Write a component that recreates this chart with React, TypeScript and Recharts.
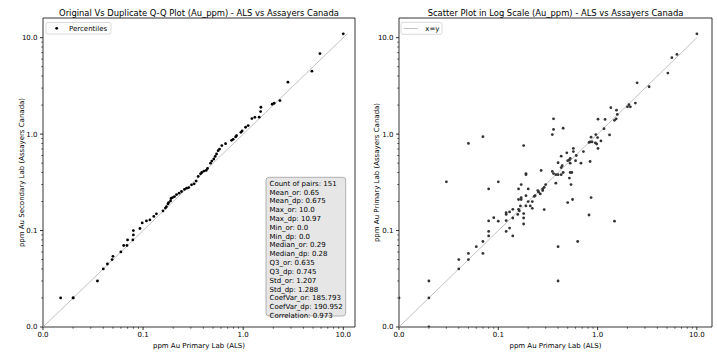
import React from 'react';
import { ScatterChart, Scatter, XAxis, YAxis, ReferenceLine, ReferenceArea } from 'recharts';

// Q-Q plot: percentiles of original (ALS) vs duplicate (Assayers Canada)
const qqOriginal = [0.015, 0.02, 0.02, 0.035, 0.04, 0.044, 0.049, 0.05, 0.06, 0.064, 0.069, 0.07, 0.079, 0.08, 0.08, 0.093, 0.098, 0.108, 0.117, 0.128, 0.136, 0.158, 0.167, 0.171, 0.177, 0.18, 0.188, 0.19, 0.197, 0.206, 0.216, 0.229, 0.242, 0.259, 0.272, 0.286, 0.305, 0.324, 0.339, 0.355, 0.375, 0.386, 0.405, 0.427, 0.44, 0.472, 0.486, 0.509, 0.525, 0.542, 0.562, 0.581, 0.612, 0.667, 0.766, 0.794, 0.84, 0.859, 0.948, 0.977, 1.057, 1.122, 1.222, 1.309, 1.445, 1.493, 1.503, 1.95, 2.04, 2.33, 2.8, 4.86, 5.85, 10.0];
const qqDuplicate = [0.02, 0.02, 0.02, 0.03, 0.04, 0.045, 0.05, 0.054, 0.06, 0.07, 0.07, 0.08, 0.08, 0.09, 0.1, 0.105, 0.12, 0.126, 0.129, 0.14, 0.149, 0.16, 0.171, 0.177, 0.189, 0.195, 0.203, 0.215, 0.22, 0.225, 0.236, 0.244, 0.254, 0.267, 0.275, 0.279, 0.298, 0.305, 0.326, 0.364, 0.388, 0.4, 0.414, 0.42, 0.44, 0.5, 0.526, 0.552, 0.587, 0.622, 0.673, 0.7, 0.76, 0.796, 0.863, 0.883, 0.935, 0.964, 1.044, 1.08, 1.178, 1.225, 1.449, 1.495, 1.5, 1.714, 1.9, 2.04, 2.09, 2.23, 3.46, 4.5, 6.84, 10.97];

// Scatter: paired samples
const alsPrimary = [0.36, 0.36, 0.35, 0.05, 0.07, 0.18, 0.19, 0.27, 0.35, 0.36, 10.0, 6.3, 5.6, 5.1, 2.5, 3.3, 2.4, 2.07, 2.0, 2.14, 1.36, 1.55, 1.58, 1.54, 1.48, 1.19, 1.01, 1.16, 0.45, 1.32, 0.96, 0.86, 1.0, 0.88, 0.84, 0.82, 0.95, 1.08, 0.98, 1.01, 0.57, 0.49, 0.57, 0.72, 0.61, 0.43, 0.53, 0.52, 0.5, 0.6, 0.84, 0.68, 0.53, 0.4, 0.44, 0.43, 0.45, 0.53, 0.55, 0.03, 0.1, 0.08, 0.19, 0.3, 0.29, 0.28, 0.17, 0.16, 0.2, 0.25, 0.255, 0.265, 0.28, 0.235, 0.23, 0.19, 0.16, 0.17, 0.17, 0.2, 0.22, 0.19, 0.167, 0.21, 0.22, 0.29, 0.16, 0.163, 0.14, 0.12, 0.12, 0.13, 0.157, 0.18, 0.14, 0.09, 0.1, 0.08, 0.12, 0.18, 0.18, 0.13, 0.08, 0.12, 0.08, 0.14, 0.07, 0.06, 0.05, 0.07, 0.05, 0.04, 0.04, 0.02, 0.02, 0.0, 0.02, 0.38, 0.4, 0.43, 0.52, 0.38, 0.54, 0.86, 0.56, 0.5, 0.82, 1.48, 0.63, 0.4, 0.4];
const acSecondary = [1.44, 1.12, 0.99, 0.8, 0.94, 0.76, 0.39, 0.42, 0.41, 0.39, 10.97, 6.7, 6.2, 4.3, 3.4, 3.1, 2.1, 2.02, 1.92, 1.92, 1.88, 1.77, 1.6, 1.44, 1.39, 1.42, 1.43, 1.14, 1.15, 0.98, 0.99, 0.93, 0.92, 0.83, 0.83, 0.82, 0.81, 0.85, 0.79, 0.71, 0.71, 0.64, 0.66, 0.66, 0.6, 0.59, 0.56, 0.54, 0.53, 0.53, 0.52, 0.5, 0.5, 0.505, 0.47, 0.45, 0.4, 0.4, 0.4, 0.32, 0.32, 0.27, 0.38, 0.3, 0.28, 0.27, 0.3, 0.27, 0.27, 0.26, 0.25, 0.24, 0.26, 0.23, 0.226, 0.23, 0.21, 0.21, 0.22, 0.2, 0.2, 0.18, 0.18, 0.18, 0.17, 0.165, 0.166, 0.16, 0.166, 0.153, 0.147, 0.156, 0.147, 0.15, 0.135, 0.136, 0.125, 0.126, 0.127, 0.135, 0.117, 0.106, 0.098, 0.098, 0.088, 0.088, 0.077, 0.068, 0.058, 0.058, 0.05, 0.05, 0.04, 0.03, 0.02, 0.02, 0.0, 0.38, 0.38, 0.38, 0.35, 0.31, 0.3, 0.22, 0.21, 0.195, 0.145, 0.125, 0.077, 0.068, 0.03];

const majorTicks = [0.01, 0.1, 1, 10];
const tickLabels = ['0.0', '0.1', '1.0', '10.0'];
const statsLines = [
  'Count of pairs: 151',
  'Mean_or: 0.65',
  'Mean_dp: 0.675',
  'Max_or: 10.0',
  'Max_dp: 10.97',
  'Min_or: 0.0',
  'Min_dp: 0.0',
  'Median_or: 0.29',
  'Median_dp: 0.28',
  'Q3_or: 0.635',
  'Q3_dp: 0.745',
  'Std_or: 1.207',
  'Std_dp: 1.288',
  'CoefVar_or: 185.793',
  'CoefVar_dp: 190.952',
  'Correlation: 0.973',
];

const FONT = '"DejaVu Sans", Verdana, sans-serif';
const AXIS_MIN = 0.01;
const Y_MAX = 16;
const LEFT_X_MAX = 13.1;
const RIGHT_X_MAX = 14.2;

const buildTicks = (max: number) => {
  const out: number[] = [];
  majorTicks.forEach((m) => {
    for (let k = 1; k <= 9; k++) {
      const v = +(m * k).toPrecision(6);
      if (v <= max) out.push(v);
    }
  });
  return out;
};

const majorIndex = (v: number) => majorTicks.findIndex((m) => Math.abs(m - v) / m < 1e-6);

const XTick = (props: any) => {
  const { x, y, payload } = props;
  const idx = majorIndex(payload.value);
  const major = idx >= 0;
  return (
    <g>
      <line x1={x} x2={x} y1={y} y2={y + (major ? 3 : 1.8)} stroke="#000" strokeWidth={major ? 0.8 : 0.6} />
      {major && (
        <text x={x} y={y + 10} textAnchor="middle" fontSize={7} fill="#000" fontFamily={FONT}>
          {tickLabels[idx]}
        </text>
      )}
    </g>
  );
};

const YTick = (props: any) => {
  const { x, y, payload } = props;
  const idx = majorIndex(payload.value);
  const major = idx >= 0;
  return (
    <g>
      <line x1={x} x2={x - (major ? 3 : 1.8)} y1={y} y2={y} stroke="#000" strokeWidth={major ? 0.8 : 0.6} />
      {major && (
        <text x={x - 5.5} y={y} dy="0.35em" textAnchor="end" fontSize={7} fill="#000" fontFamily={FONT}>
          {tickLabels[idx]}
        </text>
      )}
    </g>
  );
};

const clip = (v: number) => Math.max(v, AXIS_MIN);
const qqData = qqOriginal.map((x, i) => ({ x: clip(x), y: clip(qqDuplicate[i]) }));
const scatterData = alsPrimary.map((x, i) => ({ x: clip(x), y: clip(acSecondary[i]) }));

const dot = (color: string) => (p: any) => <circle cx={p.cx} cy={p.cy} r={1.4} fill={color} />;

type PanelProps = {
  data: { x: number; y: number }[];
  xMax: number;
  lineEnd: number;
  marginLeft: number;
  marginRight: number;
  color: string;
};

const Panel = ({ data, xMax, lineEnd, marginLeft, marginRight, color }: PanelProps) => (
  <ScatterChart width={358} height={355} margin={{ top: 18, right: marginRight, bottom: 8, left: marginLeft }}>
    <XAxis
      dataKey="x"
      type="number"
      scale="log"
      domain={[AXIS_MIN, xMax]}
      allowDataOverflow
      ticks={buildTicks(xMax)}
      interval={0}
      tick={(p: any) => <XTick {...p} />}
      tickSize={0}
      tickMargin={0}
      tickLine={false}
      axisLine={false}
      height={20}
    />
    <YAxis
      dataKey="y"
      type="number"
      scale="log"
      domain={[AXIS_MIN, Y_MAX]}
      allowDataOverflow
      ticks={buildTicks(Y_MAX)}
      interval={0}
      tick={(p: any) => <YTick {...p} />}
      tickSize={0}
      tickMargin={0}
      tickLine={false}
      axisLine={false}
      width={30}
    />
    <ReferenceLine
      segment={[{ x: AXIS_MIN, y: AXIS_MIN }, { x: lineEnd, y: lineEnd }]}
      stroke="#a8a8a8"
      strokeWidth={0.7}
      ifOverflow="visible"
    />
    <Scatter data={data} isAnimationActive={false} shape={dot(color)} />
    <ReferenceArea
      x1={AXIS_MIN}
      x2={xMax}
      y1={AXIS_MIN}
      y2={Y_MAX}
      fill="none"
      fillOpacity={0}
      stroke="#000"
      strokeWidth={0.8}
      strokeOpacity={1}
      ifOverflow="visible"
    />
  </ScatterChart>
);

export default function App() {
  return (
    <div style={{ position: 'absolute', left: 0, top: 0, width: 717, height: 355, background: '#fff' }}>
      <div style={{ position: 'absolute', left: 0, top: 0 }}>
        <Panel data={qqData} xMax={LEFT_X_MAX} lineEnd={10.97} marginLeft={13} marginRight={3} color="#000" />
      </div>
      <div style={{ position: 'absolute', left: 358, top: 0 }}>
        <Panel data={scatterData} xMax={RIGHT_X_MAX} lineEnd={10} marginLeft={11} marginRight={4} color="#333" />
      </div>
      <svg width={717} height={355} style={{ position: 'absolute', left: 0, top: 0, pointerEvents: 'none' }} fontFamily={FONT}>
        <text x={199} y={15.5} textAnchor="middle" fontSize={8.4} fill="#000">
          Original Vs Duplicate Q-Q Plot (Au_ppm) - ALS vs Assayers Canada
        </text>
        <text x={555.5} y={15.5} textAnchor="middle" fontSize={8.4} fill="#000">
          Scatter Plot in Log Scale (Au_ppm) - ALS vs Assayers Canada
        </text>
        <text x={199} y={347.5} textAnchor="middle" fontSize={7} fill="#000">ppm Au Primary Lab (ALS)</text>
        <text x={555.5} y={347.5} textAnchor="middle" fontSize={7} fill="#000">ppm Au Primary Lab (ALS)</text>
        <text x={21.7} y={172.5} textAnchor="middle" dominantBaseline="central" fontSize={7} fill="#000" transform="rotate(-90 21.7 172.5)">
          ppm Au Secondary Lab (Assayers Canada)
        </text>
        <text x={377} y={172.5} textAnchor="middle" dominantBaseline="central" fontSize={7} fill="#000" transform="rotate(-90 377 172.5)">
          ppm Au Primary Lab (Assayers Canada)
        </text>
        {/* legend left */}
        <rect x={46} y={22.5} width={65} height={11.5} rx={2} fill="#fff" fillOpacity={0.8} stroke="#d0d0d0" strokeWidth={0.8} />
        <circle cx={56.7} cy={28.3} r={1.4} fill="#000" />
        <text x={69} y={30.8} fontSize={7} fill="#000">Percentiles</text>
        {/* legend right */}
        <rect x={401} y={22.3} width={41} height={12} rx={2} fill="#fff" fillOpacity={0.8} stroke="#d0d0d0" strokeWidth={0.8} />
        <line x1={403.5} x2={417.5} y1={28.5} y2={28.5} stroke="#a8a8a8" strokeWidth={0.7} />
        <text x={425.3} y={31} fontSize={7} fill="#000">x=y</text>
        {/* stats box */}
        <rect x={266} y={177.3} width={79.7} height={138.7} rx={3} fill="#e6e6e6" stroke="#a0a0a0" strokeWidth={0.8} />
        {statsLines.map((s, i) => (
          <text key={i} x={269.5} y={185.8 + i * 8.81} fontSize={7} fill="#000">{s}</text>
        ))}
      </svg>
    </div>
  );
}
